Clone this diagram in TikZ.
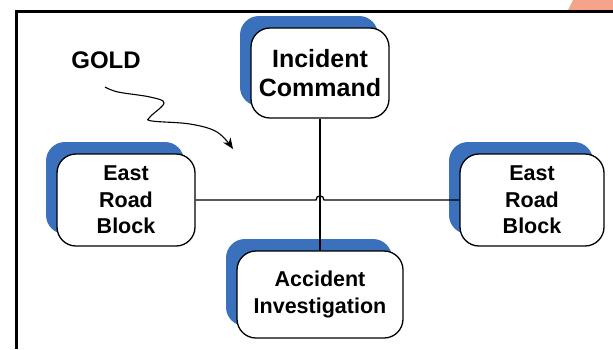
\documentclass[tikz,border=0pt]{standalone}
\usepackage{fontspec}
\setmainfont{Liberation Sans}
\usetikzlibrary{shadows,arrows.meta}
\definecolor{shblue}{RGB}{58,112,188}
\definecolor{peach}{RGB}{245,163,138}
\tikzset{
  unitbox/.style={draw=black, line width=1.3pt, fill=white, rounded corners=19pt,
    align=center, inner sep=0pt, font=\bfseries\fontsize{21.5}{26.5}\selectfont,
    general shadow={fill=shblue, shadow xshift=-11pt, shadow yshift=12pt}},
  bigtext/.style={font=\bfseries\fontsize{25}{29}\selectfont},
  link/.style={line width=1.3pt, draw=black}
}
\begin{document}
\begin{tikzpicture}[x=1pt,y=-1pt]
\useasboundingbox (0,0) rectangle (613,349);
\fill[white] (0,0) rectangle (613,349);
% corner decoration and frame
\fill[peach] (568,10) -- (573,0) -- (613,0) -- (613,10) -- cycle;
\draw[line width=3pt] (16,349) -- (16,11) -- (613,11);
% boxes
\node[unitbox, bigtext, minimum width=138pt, minimum height=90pt] (ic) at (320,73) {Incident\\Command};
\node[unitbox, minimum width=138pt, minimum height=92pt] (west) at (126,200) {East\\Road\\Block};
\node[unitbox, minimum width=144pt, minimum height=92pt] (east) at (532,200) {East\\Road\\Block};
\node[unitbox, minimum width=166pt, minimum height=87pt] (ai) at (320,294.5) {Accident\\Investigation};
% connectors
\coordinate (hopL) at (316,200);
\coordinate (hopR) at (324,200);
\draw[link] (west.east) -- (hopL) .. controls (316,194.5) and (324,194.5) .. (hopR) -- (east.west);
\draw[link] (ic.south) -- (ai.north);
% GOLD label and squiggle
\node[font=\bfseries\fontsize{24}{28}\selectfont] (gold) at (106,60) {GOLD};
\coordinate (sqstart) at (105,87);
\coordinate (sqend) at (233,149);
\draw[line width=1.1pt, -{Stealth[length=11pt,width=9pt]}]
  plot[smooth, tension=0.6] coordinates {(sqstart) (118,92) (150,97) (164,103) (150,117) (152,121) (190,124) (217,132) (sqend)};
\end{tikzpicture}
\end{document}
